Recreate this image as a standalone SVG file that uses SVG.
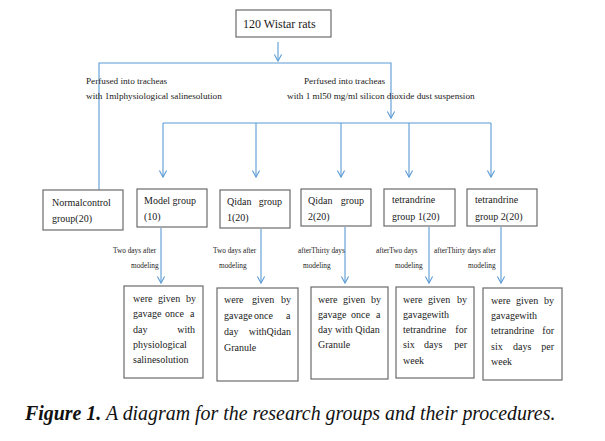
<svg xmlns="http://www.w3.org/2000/svg" width="605" height="441" viewBox="0 0 605 441">
<style>
.bg{fill:#fff}
.box{fill:#fff;stroke:#6b6b6b;stroke-width:1.2}
.ln{fill:none;stroke:#5b9bd5;stroke-width:1.1}
.t{font-family:"Liberation Serif","Times New Roman",serif;fill:#1a1a1a}
.t12{font-size:12px}
.t10{font-size:10px}
.t9{font-size:9.2px}
.t7{font-size:7.3px}
.cap{font-family:"Liberation Serif","Times New Roman",serif;font-size:19.9px;font-style:italic;fill:#111}
</style>
<defs>
<marker id="ah" viewBox="-8 -5 10 10" refX="0" refY="0" markerWidth="10" markerHeight="10" markerUnits="userSpaceOnUse" orient="auto" overflow="visible">
<path d="M-6.5,-3.6 L0,0 L-6.5,3.6" fill="none" stroke="#5b9bd5" stroke-width="1.1"/>
</marker>
</defs>
<rect class="bg" x="0" y="0" width="605" height="441"/>

<g id="connectors">
<path class="ln" d="M278,42 V61" marker-end="url(#ah)"/>
<path class="ln" d="M99,190 V63 H391 V118" marker-end="url(#ah)"/>
<path class="ln" d="M163,123 H491"/>
<path class="ln" d="M163,123 V177" marker-end="url(#ah)"/>
<path class="ln" d="M256,123 V177" marker-end="url(#ah)"/>
<path class="ln" d="M341,123 V177" marker-end="url(#ah)"/>
<path class="ln" d="M409,123 V177" marker-end="url(#ah)"/>
<path class="ln" d="M491,123 V177" marker-end="url(#ah)"/>
<path class="ln" d="M161,228 V283" marker-end="url(#ah)"/>
<path class="ln" d="M261,229 V283" marker-end="url(#ah)"/>
<path class="ln" d="M345,227 V283" marker-end="url(#ah)"/>
<path class="ln" d="M429,227 V283" marker-end="url(#ah)"/>
<path class="ln" d="M501,227 V283" marker-end="url(#ah)"/>
</g>

<g id="edge-labels">
<text class="t t9" x="86" y="84">Perfused into tracheas</text>
<text class="t t9" x="86" y="99">with 1mlphysiological salinesolution</text>
<text class="t t9" x="304" y="84">Perfused into tracheas</text>
<text class="t t9" x="287" y="99">with 1 ml50 mg/ml silicon dioxide dust suspension</text>
<text class="t t7" x="113" y="253">Two days after</text>
<text class="t t7" x="131" y="268">modeling</text>
<text class="t t7" x="213" y="253">Two days after</text>
<text class="t t7" x="219" y="268">modeling</text>
<text class="t t7" x="298" y="253">afterThirty days</text>
<text class="t t7" x="303" y="268">modeling</text>
<text class="t t7" x="376" y="253">afterTwo days</text>
<text class="t t7" x="395" y="268">modeling</text>
<text class="t t7" x="434" y="253">afterThirty days after</text>
<text class="t t7" x="468" y="268">modeling</text>
</g>

<g id="n-rats">
<rect class="box" x="236" y="10" width="95" height="27"/>
<text class="t t12" x="243" y="28">120 Wistar rats</text>
</g>

<g id="n-normal">
<rect class="box" x="43" y="190" width="80" height="40"/>
<text class="t t10" x="52" y="206">Normalcontrol</text>
<text class="t t10" x="52" y="222">group(20)</text>
</g>

<g id="n-model">
<rect class="box" x="137" y="189" width="70" height="38"/>
<text class="t t10" x="144" y="204">Model group</text>
<text class="t t10" x="144" y="220">(10)</text>
</g>

<g id="n-qidan1">
<rect class="box" x="220" y="190" width="70" height="38"/>
<text class="t t10" x="227" y="205">Qidan</text>
<text class="t t10" x="282" y="205" text-anchor="end">group</text>
<text class="t t10" x="227" y="221">1(20)</text>
</g>

<g id="n-qidan2">
<rect class="box" x="301" y="189" width="70" height="37"/>
<text class="t t10" x="308" y="204">Qidan</text>
<text class="t t10" x="364" y="204" text-anchor="end">group</text>
<text class="t t10" x="308" y="220">2(20)</text>
</g>

<g id="n-tet1">
<rect class="box" x="384" y="189" width="71" height="37"/>
<text class="t t10" x="392" y="203">tetrandrine</text>
<text class="t t10" x="392" y="220">group 1(20)</text>
</g>

<g id="n-tet2">
<rect class="box" x="467" y="189" width="70" height="37"/>
<text class="t t10" x="475" y="203">tetrandrine</text>
<text class="t t10" x="475" y="220">group 2(20)</text>
</g>

<g id="n-b1">
<rect class="box" x="124" y="286" width="79" height="92"/>
<text class="t t10" y="302"><tspan x="133">were</tspan><tspan x="158">given</tspan><tspan x="186">by</tspan></text>
<text class="t t10" y="317"><tspan x="133">gavage</tspan><tspan x="165">once</tspan><tspan x="190">a</tspan></text>
<text class="t t10" y="333"><tspan x="133">day</tspan></text>
<text class="t t10" x="195" y="333" text-anchor="end">with</text>
<text class="t t10" x="133" y="348">physiological</text>
<text class="t t10" x="133" y="363">salinesolution</text>
</g>

<g id="n-b2">
<rect class="box" x="217" y="288" width="81" height="93"/>
<text class="t t10" y="303"><tspan x="224">were</tspan><tspan x="252">given</tspan><tspan x="281">by</tspan></text>
<text class="t t10" y="319"><tspan x="224">gavage</tspan><tspan x="254">once</tspan><tspan x="286">a</tspan></text>
<text class="t t10" y="335"><tspan x="224">day</tspan></text>
<text class="t t10" x="291" y="335" text-anchor="end">withQidan</text>
<text class="t t10" x="224" y="351">Granule</text>
</g>

<g id="n-b3">
<rect class="box" x="311" y="287" width="77" height="92"/>
<text class="t t10" y="303"><tspan x="318">were</tspan><tspan x="343">given</tspan><tspan x="371">by</tspan></text>
<text class="t t10" y="318"><tspan x="318">gavage</tspan><tspan x="351">once</tspan><tspan x="376">a</tspan></text>
<text class="t t10" x="318" y="333">day with Qidan</text>
<text class="t t10" x="318" y="348">Granule</text>
</g>

<g id="n-b4">
<rect class="box" x="396" y="287" width="78" height="91"/>
<text class="t t10" y="303"><tspan x="403">were</tspan><tspan x="428">given</tspan><tspan x="457">by</tspan></text>
<text class="t t10" x="403" y="318">gavagewith</text>
<text class="t t10" x="403" y="333">tetrandrine</text>
<text class="t t10" x="467" y="333" text-anchor="end">for</text>
<text class="t t10" y="348"><tspan x="403">six</tspan><tspan x="424">days</tspan></text>
<text class="t t10" x="467" y="348" text-anchor="end">per</text>
<text class="t t10" x="403" y="364">week</text>
</g>

<g id="n-b5">
<rect class="box" x="483" y="288" width="79" height="92"/>
<text class="t t10" y="304"><tspan x="491">were</tspan><tspan x="516">given</tspan><tspan x="544">by</tspan></text>
<text class="t t10" x="491" y="319">gavagewith</text>
<text class="t t10" x="491" y="334">tetrandrine</text>
<text class="t t10" x="554" y="334" text-anchor="end">for</text>
<text class="t t10" y="350"><tspan x="491">six</tspan><tspan x="513">days</tspan></text>
<text class="t t10" x="554" y="350" text-anchor="end">per</text>
<text class="t t10" x="491" y="365">week</text>
</g>

<text class="cap" x="25" y="420"><tspan font-weight="bold">Figure 1.</tspan> A diagram for the research groups and their procedures.</text>
</svg>
